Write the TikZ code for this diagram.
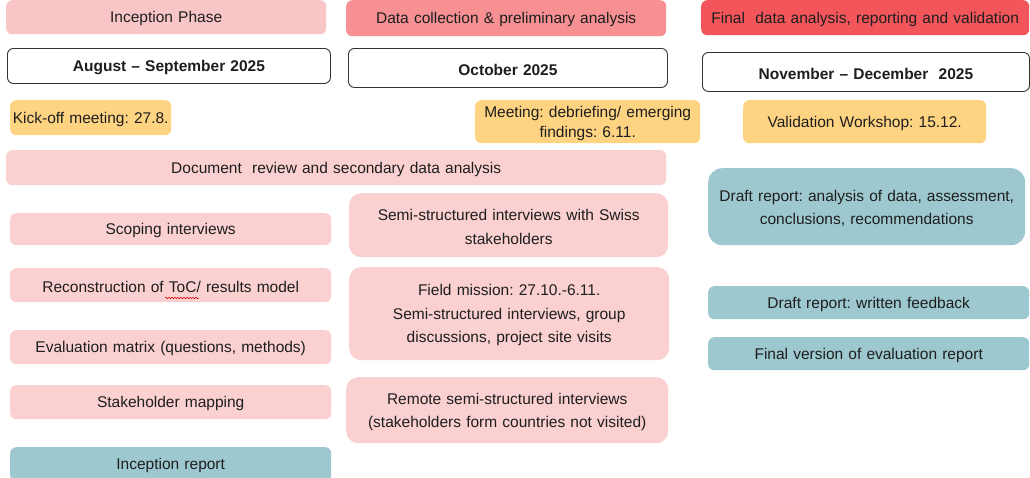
\documentclass[tikz,border=0pt]{standalone}
\usepackage{fontspec}
\setmainfont{Liberation Sans}
\usetikzlibrary{decorations.pathmorphing}
\definecolor{txt}{HTML}{1E1E1E}
\definecolor{hdrA}{HTML}{F9C6C8}
\definecolor{hdrB}{HTML}{F69093}
\definecolor{hdrC}{HTML}{F2565B}
\definecolor{lpink}{HTML}{FAD0D0}
\definecolor{gold}{HTML}{FED482}
\definecolor{teal}{HTML}{9DC8CF}
\frenchspacing
\hyphenpenalty=10000
\exhyphenpenalty=10000
\newcommand\mybox[7]{%
  \pgfmathsetmacro\bxw{#4-#2}%
  \pgfmathsetmacro\bxh{#5-#3}%
  \pgfmathsetmacro\bxt{#4-#2-8}%
  \node[anchor=north west, minimum width=\bxw pt, minimum height=\bxh pt, text width=\bxt pt, #6] (#1) at (#2,#3) {\rule{0pt}{14.5pt}#7};}
\begin{document}
\frenchspacing
\begin{tikzpicture}[x=1pt,y=-1pt,
  base/.style={rounded corners=6pt, inner xsep=4pt, inner ysep=0pt, align=center,
    font=\fontsize{15.5}{23.5}\selectfont, text=txt},
  phaseA/.style={base, fill=hdrA},
  phaseB/.style={base, fill=hdrB},
  phaseC/.style={base, fill=hdrC},
  period/.style={base, fill=white, draw=black!80, line width=0.9pt, font=\fontsize{15.5}{23.5}\selectfont\bfseries},
  meet/.style={base, fill=gold},
  task/.style={base, fill=lpink},
  bigtask/.style={task, rounded corners=12pt},
  report/.style={base, fill=teal},
  bigreport/.style={report, rounded corners=14pt}]
\useasboundingbox (0,0) rectangle (1030,477);
% headers
\mybox{ph1}{6}{0}{326}{34}{phaseA}{Inception Phase}
\mybox{ph2}{346}{0}{666}{36}{phaseB}{Data collection \& preliminary analysis}
\mybox{ph3}{701}{0}{1029}{35}{phaseC}{Final\ \ data analysis, reporting and validation}
% periods
\mybox{pe1}{7}{48}{330}{83}{period}{August -- September 2025}
\mybox{pe2}{348}{48}{667}{87}{period}{October 2025}
\mybox{pe3}{702}{52}{1029}{91}{period}{November -- December\ \ 2025}
% meetings
\mybox{m1}{10}{100}{171}{135}{meet, inner xsep=0pt, text width=161pt}{Kick-off meeting: 27.8.}
\mybox{m2}{475}{100}{700}{143}{meet, font=\fontsize{15.5}{20}\selectfont, inner xsep=0pt, text width=225pt}{Meeting: debriefing/ emerging\\findings: 6.11.}
\mybox{m3}{743}{100}{986}{143}{meet}{Validation Workshop: 15.12.}
% inception column
\mybox{doc}{6}{150}{666}{185}{task}{Document\ \ review and secondary data analysis}
\mybox{scope}{10}{213}{331}{245}{task}{Scoping interviews}
\mybox{toc}{10}{268}{331}{302}{task}{Reconstruction of ToC/ results model}
\mybox{matrix}{10}{330}{331}{364}{task}{Evaluation matrix (questions, methods)}
\mybox{stake}{10}{385}{331}{419}{task}{Stakeholder mapping}
\mybox{incep}{10}{447}{331}{481}{report}{Inception report}
% data collection column
\mybox{swiss}{349}{193}{668}{257}{bigtask}{Semi-structured interviews with Swiss\\stakeholders}
\mybox{field}{349}{267}{669}{360}{bigtask}{Field mission: 27.10.-6.11.\\Semi-structured interviews, group\\discussions, project site visits}
\mybox{remote}{346}{377}{668}{443}{bigtask}{Remote semi-structured interviews\\(stakeholders form countries not visited)}
% final column
\mybox{draft}{708}{168}{1025}{245}{bigreport, inner xsep=0pt, text width=317pt}{Draft report: analysis of data, assessment,\\conclusions, recommendations}
\mybox{feedback}{708}{286}{1029}{319}{report}{Draft report: written feedback}
\mybox{final}{708}{337}{1029}{370}{report}{Final version of evaluation report}
% spell-check squiggle under "ToC"
\coordinate (sqA) at (165,298);
\coordinate (sqB) at (199,298);
\draw[red!85!black, line width=0.5pt, decorate, decoration={snake, amplitude=0.8pt, segment length=3pt}] (sqA) -- (sqB);
\end{tikzpicture}
\end{document}
